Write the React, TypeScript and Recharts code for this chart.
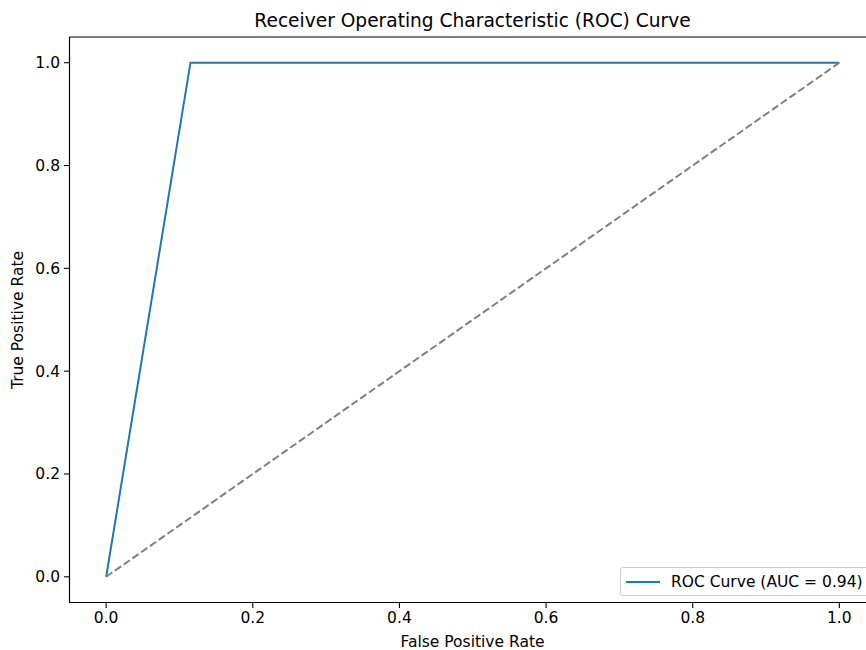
import { LineChart, Line, XAxis, YAxis, ReferenceArea } from 'recharts';

const rocPoints = [
  { x: 0, y: 0 },
  { x: 0.115, y: 1 },
  { x: 1, y: 1 },
];
const chancePoints = [
  { x: 0, y: 0 },
  { x: 1, y: 1 },
];
const ticks = [0, 0.2, 0.4, 0.6, 0.8, 1.0];
const aucLabel = 'ROC Curve (AUC = 0.94)';

const font = '"DejaVu Sans", sans-serif';
const tickStyle = { fontSize: 15.5, fill: '#000', fontFamily: font };

function LegendBox() {
  return (
    <div
      style={{
        position: 'absolute',
        left: 620,
        top: 567,
        display: 'flex',
        alignItems: 'center',
        border: '1px solid #cccccc',
        borderRadius: 3,
        background: 'rgba(255,255,255,0.8)',
        height: 29,
        padding: '0 7px 0 5px',
        fontFamily: font,
        fontSize: 15.5,
        color: '#000',
        boxSizing: 'border-box',
      }}
    >
      <svg width={34} height={4} style={{ marginRight: 11 }}>
        <line x1={0} y1={2} x2={34} y2={2} stroke="#1f77b4" strokeWidth={2} />
      </svg>
      <span style={{ whiteSpace: 'nowrap' }}>{aucLabel}</span>
    </div>
  );
}

export default function App() {
  return (
    <div style={{ position: 'absolute', left: 0, top: 0, width: 880, height: 650, background: '#fff' }}>
      <LineChart width={880} height={650} margin={{ top: 37, right: 4, left: 0, bottom: 0 }}>
        <XAxis
          dataKey="x"
          type="number"
          domain={[-0.05, 1.05]}
          ticks={ticks}
          tickFormatter={(v: number) => v.toFixed(1)}
          tick={tickStyle}
          height={47.5}
          tickSize={5.5}
          tickMargin={4}
          axisLine={{ stroke: '#000', strokeWidth: 1.1 }}
          tickLine={{ stroke: '#000', strokeWidth: 1.1 }}
          allowDataOverflow
        />
        <YAxis
          dataKey="y"
          type="number"
          domain={[-0.05, 1.05]}
          ticks={ticks}
          tickFormatter={(v: number) => v.toFixed(1)}
          tick={tickStyle}
          width={69.5}
          tickSize={5.5}
          tickMargin={4}
          axisLine={{ stroke: '#000', strokeWidth: 1.1 }}
          tickLine={{ stroke: '#000', strokeWidth: 1.1 }}
          allowDataOverflow
        />
        <ReferenceArea x1={-0.05} x2={1.05} y1={-0.05} y2={1.05} fill="none" stroke="#000" strokeWidth={1.1} />
        <Line
          data={rocPoints}
          dataKey="y"
          name={aucLabel}
          stroke="#1f77b4"
          strokeWidth={2}
          dot={false}
          activeDot={false}
          isAnimationActive={false}
        />
        <Line
          data={chancePoints}
          dataKey="y"
          stroke="#808080"
          strokeWidth={2}
          strokeDasharray="7.5 3.2"
          dot={false}
          activeDot={false}
          legendType="none"
          isAnimationActive={false}
        />
      </LineChart>
      <div
        style={{
          position: 'absolute', left: 0, width: 945, top: 12, textAlign: 'center',
          fontFamily: font, fontSize: 18.6, lineHeight: 1, color: '#000',
        }}
      >
        Receiver Operating Characteristic (ROC) Curve
      </div>
      <div
        style={{
          position: 'absolute', left: 0, width: 945, top: 635, textAlign: 'center',
          fontFamily: font, fontSize: 15.5, lineHeight: 1, color: '#000',
        }}
      >
        False Positive Rate
      </div>
      <div
        style={{
          position: 'absolute', left: 19, top: 320, transform: 'translate(-50%, -50%) rotate(-90deg)',
          whiteSpace: 'nowrap', fontFamily: font, fontSize: 15.5, lineHeight: 1, color: '#000',
        }}
      >
        True Positive Rate
      </div>
      <LegendBox />
    </div>
  );
}
